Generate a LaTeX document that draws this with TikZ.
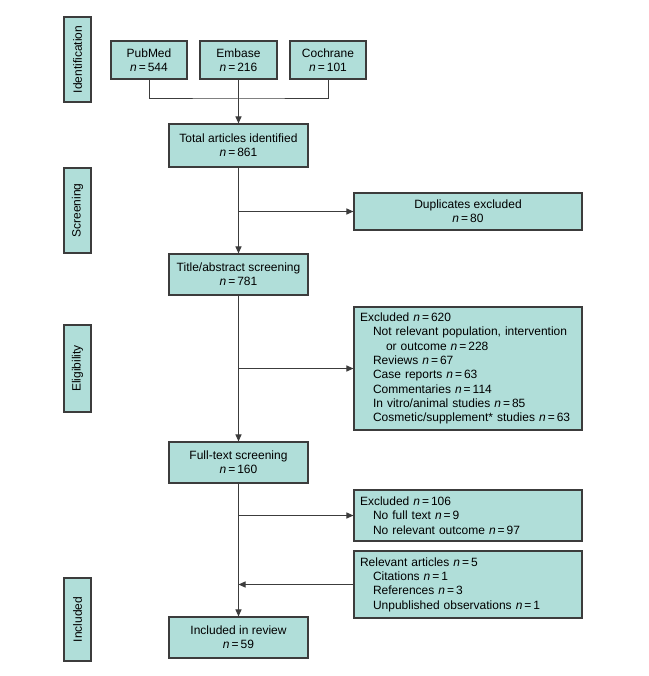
\documentclass[tikz,border=0pt]{standalone}
\usepackage{fontspec}
\setmainfont{Liberation Sans}
\usetikzlibrary{arrows.meta}
\definecolor{boxfill}{HTML}{B0DED9}
\definecolor{boxline}{HTML}{3C3C3C}
\newcommand{\nn}[1]{\textit{n}\,=\,#1}
\begin{document}
\begin{tikzpicture}[x=1pt,y=-1pt,
  every node/.style={font=\fontsize{12}{14.3}\selectfont},
  box/.style={draw=boxline,fill=boxfill,line width=1.1pt,inner sep=0pt,align=center},
  sidebox/.style={box,rotate=90,minimum height=27pt},
  listbox/.style={box,align=left,minimum width=228pt,text width=216pt},
  conn/.style={draw=boxline,line width=1pt},
  arr/.style={conn,-{Triangle[length=7pt,width=6pt]}}]
\useasboundingbox (0,0) rectangle (648,676);
% phase labels
\node[sidebox,minimum width=85pt] (ident) at (77.5,59.5) {Identification};
\node[sidebox,minimum width=85pt] (screen) at (77.5,210.5) {Screening};
\node[sidebox,minimum width=87pt] (elig) at (77.5,368.5) {Eligibility};
\node[sidebox,minimum width=83pt] (incl) at (77.5,619.5) {Included};
% sources
\node[box,minimum width=76pt,minimum height=38pt] (pubmed) at (149,60) {PubMed\\\nn{544}};
\node[box,minimum width=77pt,minimum height=38pt] (embase) at (238.5,60) {Embase\\\nn{216}};
\node[box,minimum width=76pt,minimum height=38pt] (cochrane) at (328,60) {Cochrane\\\nn{101}};
% main column
\node[box,minimum width=139pt,minimum height=43pt] (total) at (238.5,145.5) {Total articles identified\\\nn{861}};
\node[box,minimum width=139pt,minimum height=41pt] (title) at (238.5,274.5) {Title/abstract screening\\\nn{781}};
\node[box,minimum width=139pt,minimum height=41pt] (full) at (238.5,462.5) {Full-text screening\\\nn{160}};
\node[box,minimum width=139pt,minimum height=41pt] (review) at (238.5,637.5) {Included in review\\\nn{59}};
% right column
\node[box,minimum width=228pt,minimum height=37pt] (dup) at (468,211.5) {Duplicates excluded\\\nn{80}};
\node[listbox,minimum height=123pt] (excl1) at (468,368.5) {Excluded \nn{620}\\
\hspace*{13pt}Not relevant population, intervention\\
\hspace*{26pt}or outcome \nn{228}\\
\hspace*{13pt}Reviews \nn{67}\\
\hspace*{13pt}Case reports \nn{63}\\
\hspace*{13pt}Commentaries \nn{114}\\
\hspace*{13pt}In vitro/animal studies \nn{85}\\
\hspace*{13pt}Cosmetic/supplement* studies \nn{63}};
\node[listbox,minimum height=51pt] (excl2) at (468,515.5) {Excluded \nn{106}\\
\hspace*{13pt}No full text \nn{9}\\
\hspace*{13pt}No relevant outcome \nn{97}};
\node[listbox,minimum height=67pt] (relev) at (468,584.5) {Relevant articles \nn{5}\\
\hspace*{13pt}Citations \nn{1}\\
\hspace*{13pt}References \nn{3}\\
\hspace*{13pt}Unpublished observations \nn{1}};
% connectors
\coordinate (join) at (238.5,99);
\draw[conn] (pubmed.south) |- (join) -| (cochrane.south);
\draw[arr] (embase.south) -- (total.north);
\draw[arr] (total.south) -- (title.north);
\draw[arr] (total.south |- dup.west) -- (dup.west);
\draw[arr] (title.south) -- (full.north);
\draw[arr] (title.south |- excl1.west) -- (excl1.west);
\draw[arr] (full.south) -- (review.north);
\draw[arr] (full.south |- excl2.west) -- (excl2.west);
\draw[arr] (relev.west) -- (full.south |- relev.west);
\end{tikzpicture}
\end{document}
